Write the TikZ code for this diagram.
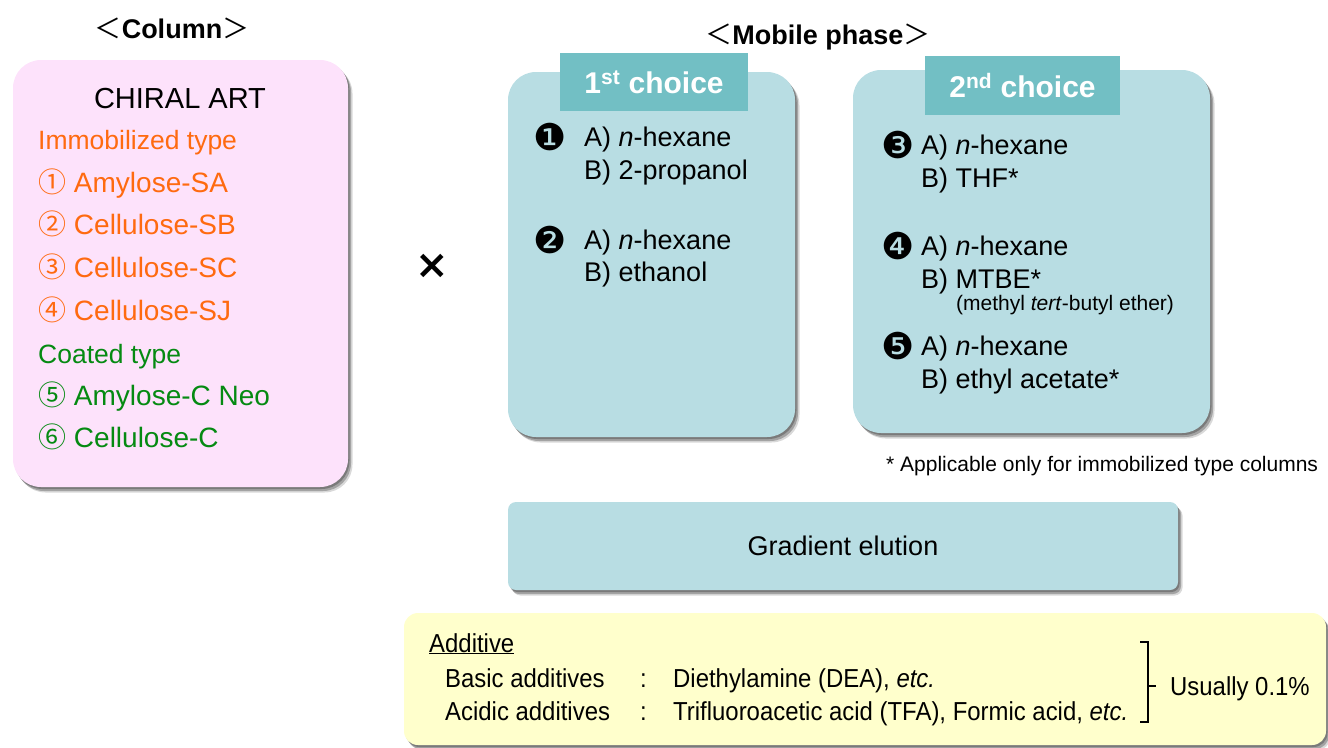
\documentclass[tikz,border=0pt]{standalone}
\usepackage{fontspec}
\setmainfont{Liberation Sans}
\newfontfamily\cjk{Noto Sans CJK JP}
\newfontfamily\dingfont{DejaVu Sans}
\newfontfamily\narrowfont{Liberation Sans}[FakeStretch=0.92]
\usetikzlibrary{shadows}
\definecolor{colpink}{HTML}{FDE2FB}
\definecolor{immorange}{HTML}{FF6A10}
\definecolor{coatgreen}{HTML}{058A12}
\definecolor{phaseblue}{HTML}{B8DDE3}
\definecolor{headteal}{HTML}{72BFC4}
\definecolor{addyellow}{HTML}{FFFFCC}
\newcommand{\fsz}[1]{\fontsize{#1}{#1}\selectfont}
\tikzset{
  softshadow/.style={
    drop shadow={shadow xshift=1.5pt, shadow yshift=-2pt, fill=black, opacity=0.25},
    drop shadow={shadow xshift=3pt, shadow yshift=-4pt, fill=black, opacity=0.25},
    drop shadow={shadow xshift=4.5pt, shadow yshift=-5.5pt, fill=black, opacity=0.15}},
  box/.style={rectangle, rounded corners=28pt, inner sep=0pt, softshadow},
  line/.style={anchor=base west, inner sep=0pt, font=\fsz{27}},
  mid/.style={anchor=base, inner sep=0pt, font=\fsz{27}},
  num/.style={anchor=center, inner sep=0pt, font=\dingfont\fsz{37}},
  small/.style={anchor=base west, inner sep=0pt, font=\fsz{21}},
  narrow/.style={anchor=base west, inner sep=0pt, font=\narrowfont\fsz{26}}
}
\begin{document}
\begin{tikzpicture}[x=1pt, y=-1pt]
  \useasboundingbox (0,0) rectangle (1328,747);

  % column side
  \node[mid, font=\bfseries\fsz{27}] (coltitle) at (172,38) {{\cjk\mdseries ＜}Column{\cjk\mdseries ＞}};
  \node[box, fill=colpink, minimum width=335pt, minimum height=427pt] (column) at (180.5,273.5) {};
  \node[mid, font=\fsz{29}] (chiral) at (180,108) {CHIRAL ART};
  \node[line, text=immorange, font=\fsz{26.5}] (immo) at (38,149) {Immobilized type};
  \node[line, text=immorange, font=\fsz{28}] (col1) at (38,192) {{\cjk ①} Amylose-SA};
  \node[line, text=immorange, font=\fsz{28}] (col2) at (38,234) {{\cjk ②} Cellulose-SB};
  \node[line, text=immorange, font=\fsz{28}] (col3) at (38,277) {{\cjk ③} Cellulose-SC};
  \node[line, text=immorange, font=\fsz{28}] (col4) at (38,320) {{\cjk ④} Cellulose-SJ};
  \node[line, text=coatgreen, font=\fsz{26.5}] (coat) at (38,363) {Coated type};
  \node[line, text=coatgreen, font=\fsz{28}] (col5) at (38,405) {{\cjk ⑤} Amylose-C Neo};
  \node[line, text=coatgreen, font=\fsz{28}] (col6) at (38,447) {{\cjk ⑥} Cellulose-C};

  \node[anchor=center, inner sep=0pt, font=\dingfont\bfseries\fsz{40}] (times) at (432,266) {×};

  % mobile phase side
  \node[mid, font=\bfseries\fsz{27}] (phasetitle) at (818,44) {{\cjk\mdseries ＜}Mobile phase{\cjk\mdseries ＞}};

  \node[box, fill=phaseblue, minimum width=287pt, minimum height=365pt] (first) at (651.5,254.5) {};
  \node[rectangle, fill=headteal, text=white, inner sep=0pt, minimum width=188pt, minimum height=58pt,
        font=\bfseries\fsz{30}] (firsthead) at (654,82) {1\textsuperscript{st} choice};
  \node[num] (m1) at (550,137) {❶};
  \node[line] (m1a) at (584,146) {A) \textit{n}-hexane};
  \node[line] (m1b) at (584,179) {B) 2-propanol};
  \node[num] (m2) at (550,240) {❷};
  \node[line] (m2a) at (584,249) {A) \textit{n}-hexane};
  \node[line] (m2b) at (584,281) {B) ethanol};

  \node[box, fill=phaseblue, minimum width=357pt, minimum height=363pt] (second) at (1031.5,251.5) {};
  \node[rectangle, fill=headteal, text=white, inner sep=0pt, minimum width=195pt, minimum height=59pt,
        font=\bfseries\fsz{30}] (secondhead) at (1022.5,85.5) {2\textsuperscript{nd} choice};
  \node[num] (m3) at (898,145) {❸};
  \node[line] (m3a) at (921,154) {A) \textit{n}-hexane};
  \node[line] (m3b) at (921,187) {B) THF*};
  \node[num] (m4) at (898,246) {❹};
  \node[line] (m4a) at (921,255) {A) \textit{n}-hexane};
  \node[line] (m4b) at (921,288) {B) MTBE*};
  \node[small] (m4c) at (956,310) {(methyl \textit{tert}-butyl ether)};
  \node[num] (m5) at (898,346) {❺};
  \node[line] (m5a) at (921,355) {A) \textit{n}-hexane};
  \node[line] (m5b) at (921,388) {B) ethyl acetate*};

  \node[small] (note) at (886,471) {* Applicable only for immobilized type columns};

  % gradient
  \node[box, rounded corners=8pt, fill=phaseblue, minimum width=670pt, minimum height=88pt,
        font=\fsz{27}] (gradient) at (843,546) {Gradient elution};

  % additive
  \node[box, rounded corners=14pt, fill=addyellow, minimum width=922pt, minimum height=132pt] (additive) at (865,679) {};
  \node[narrow] (addtitle) at (429,652) {\underline{Additive}};
  \node[narrow] (basic) at (445,687) {Basic additives};
  \node[narrow] (basiccolon) at (640,687) {:};
  \node[narrow] (basicval) at (673,687) {Diethylamine (DEA), \textit{etc.}};
  \node[narrow] (acidic) at (445,720) {Acidic additives};
  \node[narrow] (acidiccolon) at (640,720) {:};
  \node[narrow] (acidicval) at (673,720) {Trifluoroacetic acid (TFA), Formic acid, \textit{etc.}};
  \draw[line width=1.8pt] (1140,642) -| (1148,722) -- (1140,722);
  \draw[line width=1.8pt] (1148,686) -- (1156,686);
  \node[narrow] (usually) at (1170,695) {Usually 0.1\%};
\end{tikzpicture}
\end{document}
